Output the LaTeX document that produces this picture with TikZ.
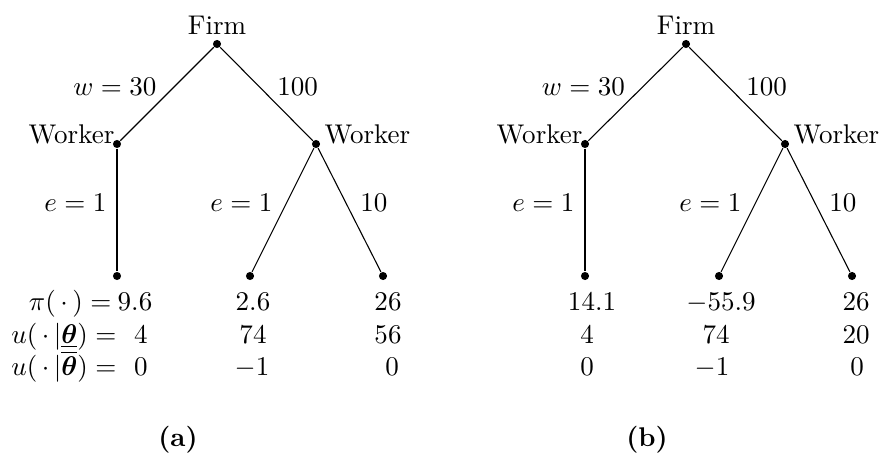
\documentclass[tikz,border=0pt]{standalone}
\usepackage{amsmath}
\usepackage{amssymb}
\usepackage{tikz}

\begin{document}
\begin{tikzpicture}[x=0.013cm,y=-0.013cm,
    dot/.style={circle,fill=black,inner sep=0pt,minimum size=3pt},
    player/.style={inner sep=0pt},
    elabl/.style={anchor=base east,inner sep=0pt,xshift=-3.7pt,yshift=-0.4pt},
    elabr/.style={anchor=base west,inner sep=0pt,xshift=3.8pt,yshift=-0.4pt},
    pay/.style={anchor=base,inner sep=0pt},
    paylab/.style={anchor=base east,inner sep=0pt}
]
\useasboundingbox (0,0) rectangle (881,454);

% tree (a)
\node[dot] (firmA)  at (217,44)  {};
\node[dot] (workA1) at (117,144) {};
\node[dot] (workA2) at (316,144) {};
\node[dot] (leafA1) at (117,276) {};
\node[dot] (leafA2) at (250,276) {};
\node[dot] (leafA3) at (383,276) {};
\node[player,anchor=base]      (firmAlab)  at (217,35)  {Firm};
\node[player,anchor=base east] (workA1lab) at (115,144) {Worker};
\node[player,anchor=base west] (workA2lab) at (324,144) {Worker};
\draw (firmA)  -- node[elabl] (wA)  {$w=30$} (workA1);
\draw (firmA)  -- node[elabr] (wA2) {$100$}  (workA2);
\draw (workA1) -- node[elabl] (eA1) {$e=1$}  (leafA1);
\draw (workA2) -- node[elabl] (eA2) {$e=1$}  (leafA2);
\draw (workA2) -- node[elabr] (eA3) {$10$}   (leafA3);

\node[paylab] (piA)  at (112,310) {$\pi(\,\cdot\,) =$};
\node[paylab] (uloA) at (117,343) {$u(\,\cdot\,|\underline{\underline{\boldsymbol{\theta}}}) =$};
\node[paylab] (uhiA) at (117,375) {$u(\,\cdot\,|\overline{\boldsymbol{\theta}}) =$};
\node[pay] (pA1) at (135,310) {$9.6$};
\node[pay] (pA2) at (253,310) {$2.6$};
\node[pay] (pA3) at (388,310) {$26$};
\node[pay] (lA1) at (141,343) {$4$};
\node[pay] (lA2) at (253,343) {$74$};
\node[pay] (lA3) at (388,343) {$56$};
\node[pay] (hA1) at (141,375) {$0$};
\node[pay] (hA2) at (252,375) {$-1$};
\node[pay] (hA3) at (392,375) {$0$};
\node[pay] (capA) at (178,446) {\textbf{(a)}};

% tree (b)
\node[dot] (firmB)  at (686,44)  {};
\node[dot] (workB1) at (585,144) {};
\node[dot] (workB2) at (785,144) {};
\node[dot] (leafB1) at (585,276) {};
\node[dot] (leafB2) at (719,276) {};
\node[dot] (leafB3) at (852,276) {};
\node[player,anchor=base]      (firmBlab)  at (686,35)  {Firm};
\node[player,anchor=base east] (workB1lab) at (583,144) {Worker};
\node[player,anchor=base west] (workB2lab) at (793,144) {Worker};
\draw (firmB)  -- node[elabl] (wB)  {$w=30$} (workB1);
\draw (firmB)  -- node[elabr] (wB2) {$100$}  (workB2);
\draw (workB1) -- node[elabl] (eB1) {$e=1$}  (leafB1);
\draw (workB2) -- node[elabl] (eB2) {$e=1$}  (leafB2);
\draw (workB2) -- node[elabr] (eB3) {$10$}   (leafB3);

\node[pay] (pB1) at (592,310) {$14.1$};
\node[pay] (pB2) at (721,310) {$-55.9$};
\node[pay] (pB3) at (856,310) {$26$};
\node[pay] (lB1) at (587,343) {$4$};
\node[pay] (lB2) at (716,343) {$74$};
\node[pay] (lB3) at (856,343) {$20$};
\node[pay] (hB1) at (587,375) {$0$};
\node[pay] (hB2) at (712,375) {$-1$};
\node[pay] (hB3) at (857,375) {$0$};
\node[pay] (capB) at (647,446) {\textbf{(b)}};
\end{tikzpicture}
\end{document}
